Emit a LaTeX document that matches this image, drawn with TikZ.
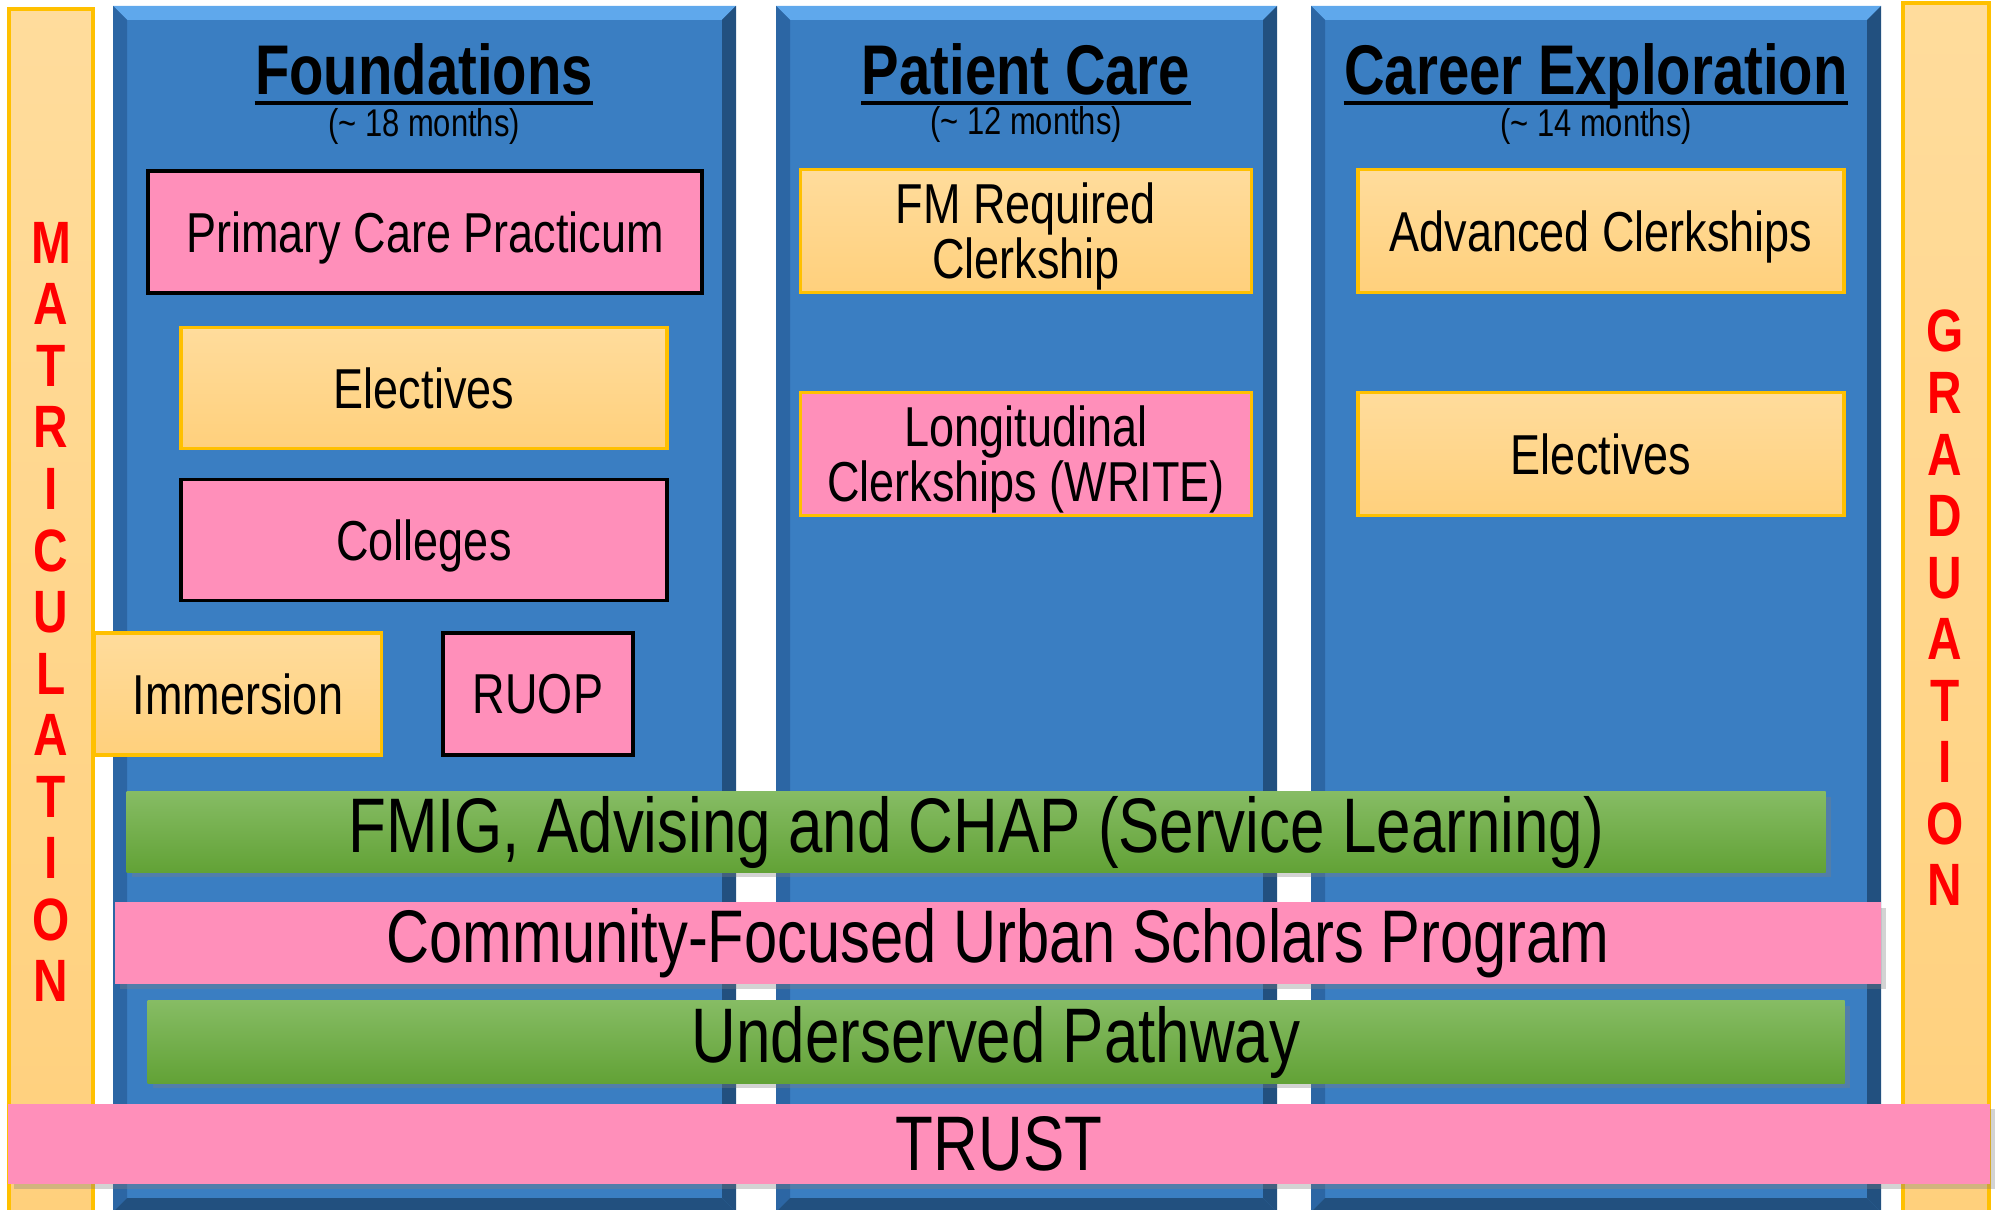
\documentclass[tikz,border=0pt]{standalone}
\usepackage{fontspec}
\setmainfont{Liberation Sans}[FakeStretch=0.8]
\usetikzlibrary{shadows}

\definecolor{panelblue}{HTML}{3A7EC2}
\definecolor{bevellight}{HTML}{5FA8EC}
\definecolor{beveldark}{HTML}{22507F}
\definecolor{bevelmid}{HTML}{2C66A4}
\definecolor{pinkfill}{HTML}{FF8FBA}
\definecolor{peachtop}{HTML}{FFDC9C}
\definecolor{peachbot}{HTML}{FFD07C}
\definecolor{peachline}{HTML}{FFC000}
\definecolor{greentop}{HTML}{86BC64}
\definecolor{greenbot}{HTML}{62A236}

\begin{document}
\begin{tikzpicture}[x=0.01cm, y=-0.01cm,
  every node/.style = {align=center, inner sep=0pt},
  title/.style = {font=\fontsize{20}{24}\selectfont\bfseries, anchor=base},
  months/.style = {font=\fontsize{11}{13}\selectfont, anchor=base},
  ul/.style = {line width=1.3pt},
  pinkbox/.style = {draw=black, line width=1pt, fill=pinkfill, text depth=0pt,
    font=\fontsize{16}{15.6}\selectfont},
  peachbox/.style = {draw=peachline, line width=1pt, top color=peachtop,
    bottom color=peachbot, text depth=0pt, font=\fontsize{16}{15.6}\selectfont},
  bar/.style = {font=\fontsize{22}{26}\selectfont,
    drop shadow={shadow xshift=1.5pt, shadow yshift=-1.5pt, opacity=.35}},
  pinkbar/.style = {bar, fill=pinkfill},
  greenbar/.style = {bar, top color=greentop, bottom color=greenbot},
  sidebar/.style = {draw=peachline, line width=1pt, top color=peachtop,
    bottom color=peachbot},
  vletters/.style = {font=\fontsize{17}{17.5}\selectfont\bfseries, text=red}]

  \useasboundingbox (0,0) rectangle (1997,1210);

  % side bars
  \path[sidebar] (9,9) rectangle (93,1216);
  \path[sidebar] (1903,3) rectangle (1989,1216);
  \node[vletters] (matric) at (51,612) {M\\A\\T\\R\\I\\C\\U\\L\\A\\T\\I\\O\\N};
  \node[vletters] (grad) at (1945,608) {G\\R\\A\\D\\U\\A\\T\\I\\O\\N};

  % bevelled phase panels
  \foreach \xa/\xb in {113/736, 776/1277, 1311/1881} {
    \fill[panelblue] (\xa,6) rectangle (\xb,1212);
    \fill[bevellight] (\xa,6) -- (\xb,6) -- (\xb-14,20) -- (\xa+14,20) -- cycle;
    \fill[bevelmid] (\xa,6) -- (\xa+14,20) -- (\xa+14,1198) -- (\xa,1212) -- cycle;
    \fill[beveldark] (\xb,6) -- (\xb,1212) -- (\xb-14,1198) -- (\xb-14,20) -- cycle;
    \fill[beveldark] (\xa,1212) -- (\xa+14,1198) -- (\xb-14,1198) -- (\xb,1212) -- cycle;
  }

  % titles
  \node[title] (fndT) at (424,95) {Foundations};
  \node[months] (fndM) at (424,137) {(\textasciitilde\ 18 months)};
  \node[title] (patT) at (1026,95) {Patient Care};
  \node[months] (patM) at (1026,135) {(\textasciitilde\ 12 months)};
  \node[title] (carT) at (1596,95) {Career Exploration};
  \node[months] (carM) at (1596,137) {(\textasciitilde\ 14 months)};
  \foreach \t in {fndT, patT, carT}
    \draw[ul] ([yshift=-2.3pt]\t.base west) -- ([yshift=-2.3pt]\t.base east);

  % Foundations boxes
  \node[pinkbox, minimum width=5.54cm, minimum height=1.22cm] (pcp) at (425,232) {Primary Care Practicum};
  \node[peachbox, minimum width=4.86cm, minimum height=1.21cm] (elecF) at (424,388) {Electives};
  \node[pinkbox, minimum width=4.86cm, minimum height=1.21cm] (coll) at (424,540) {Colleges};
  \node[peachbox, minimum width=2.87cm, minimum height=1.22cm] (imm) at (238,694) {Immersion};
  \node[pinkbox, minimum width=1.90cm, minimum height=1.22cm] (ruop) at (538,694) {RUOP};

  % Patient Care boxes
  \node[peachbox, minimum width=4.51cm, minimum height=1.23cm] (fmreq) at (1026,231) {FM Required\\Clerkship};
  \node[pinkbox, draw=peachline, minimum width=4.51cm, minimum height=1.23cm] (write) at (1026,454) {Longitudinal\\Clerkships (WRITE)};

  % Career Exploration boxes
  \node[peachbox, minimum width=4.86cm, minimum height=1.23cm] (adv) at (1601,231) {Advanced Clerkships};
  \node[peachbox, minimum width=4.86cm, minimum height=1.23cm] (elecC) at (1601,454) {Electives};

  % programs across all phases
  \node[greenbar, minimum width=16.98cm, minimum height=0.80cm] (fmig) at (976,832) {FMIG, Advising and CHAP (Service Learning)};
  \node[pinkbar, minimum width=17.65cm, minimum height=0.81cm, font=\fontsize{21.2}{26}\selectfont] (cfus) at (998,943) {Community-Focused Urban Scholars Program};
  \node[greenbar, minimum width=16.96cm, minimum height=0.82cm] (under) at (996,1042) {Underserved Pathway};
  \node[pinkbar, minimum width=19.80cm, minimum height=0.80cm] (trust) at (999,1144) {TRUST};
\end{tikzpicture}
\end{document}
